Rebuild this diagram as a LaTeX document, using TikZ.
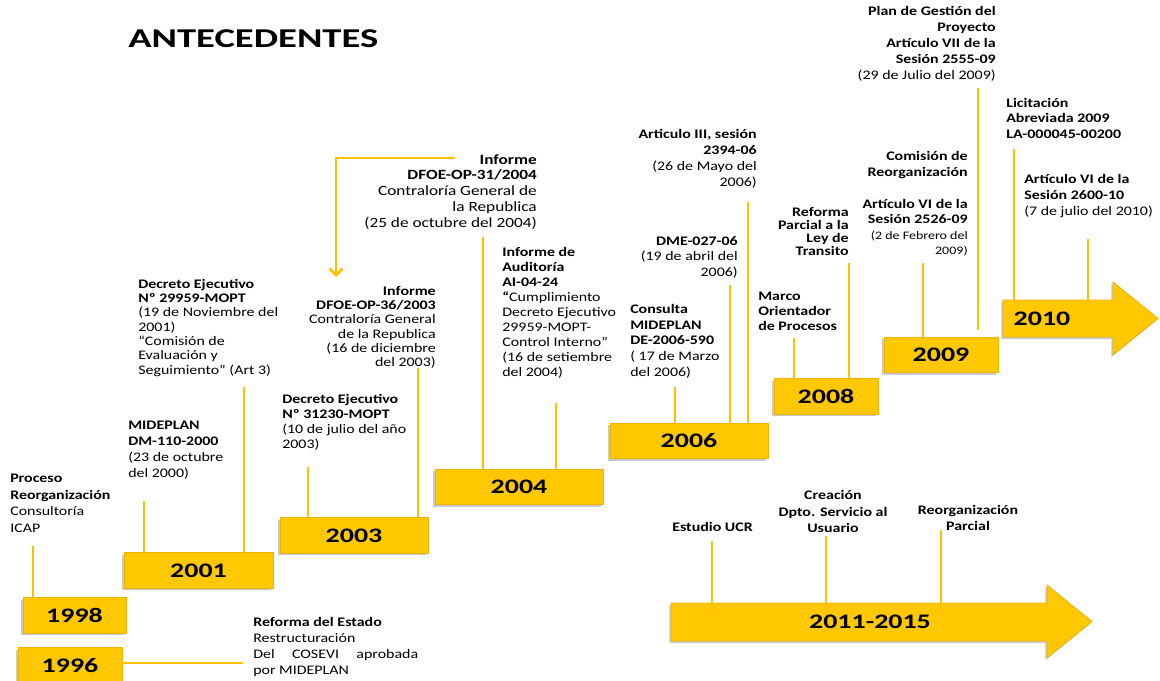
\documentclass[tikz,border=0pt]{standalone}
\usepackage{fontspec}
\setmainfont{Carlito}[FakeStretch=1.22]
\newfontfamily\yearfont{Carlito}[FakeStretch=1.35]
\newfontfamily\titlefont{Carlito}[FakeStretch=1.42]
\usepackage{tikz}
\usetikzlibrary{positioning}
\usetikzlibrary{shadows}
\usetikzlibrary{arrows.meta}
\definecolor{gold}{RGB}{255,200,0}
\definecolor{goldedge}{RGB}{238,178,0}
\definecolor{goldline}{RGB}{255,192,0}
\newcommand{\yearbox}[5]{ % name, x, y (centre, px), width (px), year
    \node [yearbox, minimum width=#4*0.75pt] (#1) at (#2, #3) {#5};
}

\begin{document}
\begin{tikzpicture}[x=0.75pt, y=-0.75pt,
    yearbox/.style={fill=gold, draw=goldedge, line width=0.6pt, inner sep=0pt, minimum height=26.5pt,
        font=\yearfont\bfseries\fontsize{15.5}{16}\selectfont,
        drop shadow={shadow xshift=-1.2pt, shadow yshift=-1.5pt, opacity=0.3, fill=black!70}},
    arrowfill/.style={fill=gold, draw=goldedge, line width=0.6pt,
        drop shadow={shadow xshift=-1.2pt, shadow yshift=-1.5pt, opacity=0.3, fill=black!70}},
    tick/.style={draw=goldline, line width=1.2pt},
    note/.style={inner sep=0pt, font=\fontsize{9.8}{10.7}\selectfont},
    loose/.style={font=\fontsize{9.8}{12}\selectfont}]
    \useasboundingbox (0,0) rectangle (1160,681);

    % Title
    \node[anchor=base west, inner sep=0pt, font=\titlefont\bfseries\fontsize{20.4}{22}\selectfont] (title) at (128,48) {ANTECEDENTES};

    % Arrows 2010 and 2011-2015
    \path[arrowfill] (1003,300) -- (1113,300) -- (1113,282) -- (1158,318.5) -- (1113,355) -- (1113,337) -- (1003,337) -- cycle;
    \coordinate (top2010) at (1003,300);
    \node[inner sep=0pt, font=\yearfont\bfseries\fontsize{15.5}{16}\selectfont] (y2010) at (1042,319) {2010};
    \path[arrowfill] (671,603) -- (1047,603) -- (1047,585) -- (1092,621.5) -- (1047,658) -- (1047,641) -- (671,641) -- cycle;
    \node[inner sep=0pt, font=\yearfont\bfseries\fontsize{15.5}{16}\selectfont] (y2011) at (870,622) {2011-2015};

    % Year boxes
    \yearbox{y1996}{70}{665.5}{104}{1996}
    \yearbox{y1998}{74.5}{615.5}{103}{1998}
    \yearbox{y2001}{198.5}{570.5}{149}{2001}
    \yearbox{y2003}{354}{535.5}{148}{2003}
    \yearbox{y2004}{519}{487}{168}{2004}
    \yearbox{y2006}{689}{441}{158}{2006}
    \yearbox{y2008}{826}{396.5}{104}{2008}
    \yearbox{y2009}{941}{355}{114}{2009}

    % Texts
    \node[note, loose, anchor=north west, align=left, font=\fontsize{9.8}{12.4}\selectfont] (t1998) at (10,474)
        {\textbf{Proceso}\\\textbf{Reorganización}\\Consultoría\\ICAP};
    \node[note, anchor=north west, align=left, font=\fontsize{9.8}{12}\selectfont] (t2001a) at (128,421)
        {\textbf{MIDEPLAN}\\\textbf{DM-110-2000}\\(23 de octubre\\del 2000)};
    \node[note, anchor=north west, align=left] (t2001b) at (138,279)
        {\textbf{Decreto Ejecutivo}\\\textbf{Nº 29959-MOPT}\\(19 de Noviembre del\\2001)\\“Comisión de\\Evaluación y\\Seguimiento” (Art 3)};
    \node[note, anchor=north west, align=left, font=\fontsize{9.8}{11.25}\selectfont] (t2003a) at (282,394)
        {\textbf{Decreto Ejecutivo}\\\textbf{Nº 31230-MOPT}\\(10 de julio del año\\2003)};
    \node[note, anchor=north east, align=right] (t2003b) at (436,286)
        {\textbf{Informe}\\\textbf{DFOE-OP-36/2003}\\Contraloría General\\de la Republica\\(16 de diciembre\\del 2003)};
    \node[note, anchor=north east, align=right, font=\fontsize{10.6}{11.9}\selectfont] (t2004a) at (537,154)
        {\textbf{Informe}\\\textbf{DFOE-OP-31/2004}\\Contraloría General de\\la Republica\\(25 de octubre del 2004)};
    \node[note, anchor=north west, align=left, font=\fontsize{9.8}{11.25}\selectfont] (t2004b) at (502,247)
        {\textbf{Informe de}\\\textbf{Auditoría}\\\textbf{AI-04-24}\\ \textbf{“}Cumplimiento\\Decreto Ejecutivo\\29959-MOPT-\\Control Interno”\\ (16 de setiembre\\del 2004)};
    \node[note, anchor=north west, align=left, font=\fontsize{9.8}{11.8}\selectfont] (t2006a) at (630,304)
        {\textbf{Consulta}\\\textbf{MIDEPLAN}\\\textbf{DE-2006-590}\\( 17 de Marzo\\del 2006)};
    \node[note, anchor=north east, align=right, font=\fontsize{9.8}{11.8}\selectfont] (t2006b) at (738,236)
        {\textbf{DME-027-06}\\(19 de abril del\\2006)};
    \node[note, anchor=north east, align=right, font=\fontsize{9.8}{12}\selectfont] (t2006c) at (757,129)
        {\textbf{Articulo III, sesión}\\\textbf{2394-06}\\(26 de Mayo del\\2006)};
    \node[note, anchor=north west, align=left, font=\bfseries\fontsize{9.8}{11}\selectfont] (t2008a) at (758,292)
        {Marco\\Orientador\\de Procesos};
    \node[note, anchor=north east, align=right, font=\bfseries\fontsize{9.8}{9.9}\selectfont] (t2008b) at (849,207)
        {Reforma\\Parcial a la\\Ley de\\Transito};
    \node[note, anchor=north east, align=right, font=\fontsize{9.8}{11.6}\selectfont] (t2009a) at (968,199)
        {\textbf{Artículo VI de la}\\\textbf{Sesión 2526-09}\\{\fontsize{8.6}{10}\selectfont (2 de Febrero del}\\{\fontsize{8.6}{10}\selectfont 2009)}};
    \node[note, anchor=north east, align=right, font=\bfseries\fontsize{9.8}{12}\selectfont] (t2009b) at (968,151)
        {Comisión de\\Reorganización};
    \node[note, anchor=north east, align=right, font=\fontsize{9.8}{12}\selectfont] (t2009c) at (996,6)
        {\textbf{Plan de Gestión del}\\\textbf{Proyecto}\\\textbf{Artículo VII de la}\\\textbf{Sesión 2555-09}\\(29 de Julio del 2009)};
    \node[note, anchor=north west, align=left, font=\bfseries\fontsize{9.8}{11.6}\selectfont] (t2010a) at (1006,98)
        {Licitación\\Abreviada 2009\\LA-000045-00200};
    \node[note, anchor=north west, align=left, font=\fontsize{9.8}{12}\selectfont] (t2010b) at (1024,174)
        {\textbf{Artículo VI de la}\\\textbf{Sesión 2600-10}\\(7 de julio del 2010)};
    \node[note, anchor=north west, font=\bfseries\fontsize{9.8}{12}\selectfont] (t2011a) at (672,522) {Estudio UCR};
    \node[note, anchor=north, align=center, font=\bfseries\fontsize{9.8}{12.5}\selectfont] (t2011b) at (833,490)
        {Creación\\Dpto. Servicio al\\Usuario};
    \node[note, anchor=north, align=center, font=\bfseries\fontsize{9.8}{12}\selectfont] (t2011c) at (968,505)
        {Reorganización\\Parcial};
    \node[note, anchor=north west, align=left, font=\fontsize{9.8}{12}\selectfont] (t1996) at (253,617)
        {\textbf{Reforma del Estado}\\Restructuración\\\makebox[123.75pt][s]{Del COSEVI aprobada}\\por MIDEPLAN};

    % Connectors
    \coordinate (l1996) at (243,663);
    \draw[tick] (l1996 -| y1996.east) -- (l1996);
    \coordinate (l1998) at (33,546);
    \draw[tick] (l1998) -- (l1998 |- y1998.north);
    \coordinate (l2001a) at (144,501);
    \draw[tick] (l2001a) -- (l2001a |- y2001.north);
    \coordinate (l2001b) at (244,387);
    \draw[tick] (l2001b) -- (l2001b |- y2001.north);
    \coordinate (l2003a) at (308,467);
    \draw[tick] (l2003a) -- (l2003a |- y2003.north);
    \coordinate (l2003b) at (418,368);
    \draw[tick] (l2003b) -- (l2003b |- y2003.north);
    \coordinate (l2004a) at (483,237);
    \draw[tick] (l2004a) -- (l2004a |- y2004.north);
    \coordinate (l2004b) at (556,403);
    \draw[tick] (l2004b) -- (l2004b |- y2004.north);
    \coordinate (l2006a) at (675,387);
    \draw[tick] (l2006a) -- (l2006a |- y2006.north);
    \coordinate (l2006b) at (730,285);
    \draw[tick] (l2006b) -- (l2006b |- y2006.north);
    \coordinate (l2006c) at (748,202);
    \draw[tick] (l2006c) -- (l2006c |- y2006.north);
    \coordinate (l2008a) at (794,338);
    \draw[tick] (l2008a) -- (l2008a |- y2008.north);
    \coordinate (l2008b) at (849,263);
    \draw[tick] (l2008b) -- (l2008b |- y2008.north);
    \coordinate (l2009a) at (923,263);
    \draw[tick] (l2009a) -- (l2009a |- y2009.north);
    \coordinate (l2009b) at (978,88);
    \draw[tick] (l2009b) -- ([yshift=5pt]l2009b |- y2009.north);
    \coordinate (l2010a) at (1014,149);
    \draw[tick] (l2010a) -- (l2010a |- top2010);
    \coordinate (l2010b) at (1088,239);
    \draw[tick] (l2010b) -- (l2010b |- top2010);
    \coordinate (l2011a) at (712,541);
    \draw[tick] (l2011a) -- (l2011a |- y2011.north);
    \coordinate (l2011b) at (826,536);
    \draw[tick] (l2011b) -- (l2011b |- y2011.north);
    \coordinate (l2011c) at (941,530);
    \draw[tick] (l2011c) -- (l2011c |- y2011.north);

    % Hook from the 2004 report down to the 2003 report
    \coordinate (hook) at (455,158);
    \coordinate (bend) at (336,158);
    \coordinate (hookend) at (336,277);
    \draw[tick, line width=2pt, -{Straight Barb[length=5pt, width=10pt]}] (hook) -- (bend) -- (hookend);
\end{tikzpicture}
\end{document}
